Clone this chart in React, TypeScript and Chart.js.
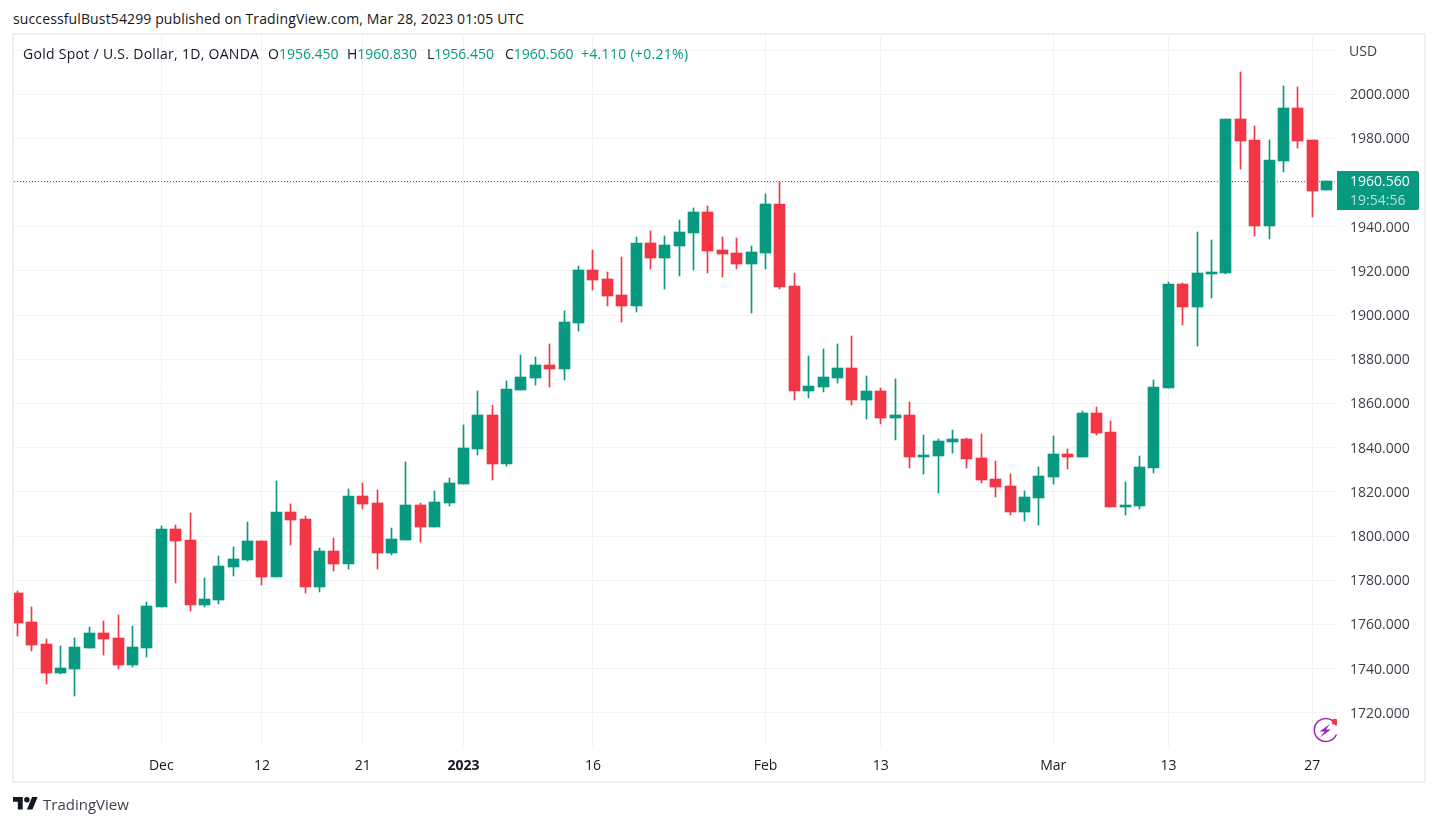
import React, { useEffect, useRef } from "react";
import { Chart, registerables } from "chart.js";

Chart.register(...registerables);

const opens = [1774.2,1761.1,1751.1,1738.0,1739.8,1749.3,1756.1,1753.8,1741.6,1749.3,1767.9,1803.2,1798.2,1768.8,1771.0,1786.0,1789.1,1797.7,1781.4,1810.9,1807.7,1776.9,1793.2,1787.3,1818.1,1814.9,1792.3,1798.2,1814.0,1804.1,1814.9,1823.5,1839.4,1854.8,1832.6,1866.1,1871.5,1877.4,1875.6,1896.4,1920.4,1916.4,1909.1,1904.1,1932.7,1925.9,1931.3,1937.2,1946.7,1929.5,1928.1,1923.2,1928.1,1950.3,1913.2,1865.6,1867.5,1871.5,1876.1,1861.6,1865.6,1853.4,1854.8,1835.8,1836.2,1842.6,1843.9,1835.3,1825.8,1822.6,1810.9,1817.2,1826.7,1837.1,1835.8,1855.7,1847.1,1813.1,1813.6,1830.8,1867.0,1914.1,1903.7,1918.6,1919.1,1988.8,1979.3,1940.4,1969.8,1993.8,1979.3,1956.45];
const highs = [1775.1,1767.9,1753.4,1750.2,1753.8,1758.8,1761.5,1764.2,1759.2,1770.1,1804.5,1805.0,1810.4,1781.0,1791.0,1795.0,1806.4,1797.7,1824.9,1814.5,1809.1,1794.6,1799.1,1821.3,1824.0,1820.8,1803.6,1833.5,1815.0,1820.4,1826.3,1850.3,1865.6,1859.3,1870.2,1881.9,1881.0,1886.9,1901.9,1922.2,1929.5,1919.5,1926.3,1935.4,1938.1,1935.8,1943.1,1948.5,1949.4,1935.4,1934.9,1931.3,1954.9,1960.3,1919.1,1881.5,1884.7,1886.9,1890.6,1872.4,1867.0,1871.1,1860.7,1845.7,1843.9,1848.0,1844.4,1846.2,1833.9,1828.1,1820.4,1831.2,1845.3,1839.4,1856.6,1858.4,1852.1,1824.5,1836.2,1870.6,1915.0,1914.6,1937.7,1934.0,1988.8,2010.1,1985.6,1979.3,2003.8,2003.3,1979.3,1960.83];
const lows = [1754.7,1747.9,1733.0,1737.5,1727.6,1749.3,1746.1,1739.8,1740.7,1745.2,1767.9,1778.7,1766.1,1767.9,1769.2,1781.9,1788.7,1777.8,1781.4,1795.9,1774.2,1774.6,1784.2,1785.1,1812.2,1785.1,1791.4,1798.2,1797.3,1804.1,1813.6,1823.5,1836.7,1825.4,1831.7,1866.1,1868.4,1867.5,1870.6,1892.8,1911.4,1904.1,1896.9,1901.4,1920.9,1911.8,1917.7,1920.4,1919.1,1917.3,1920.9,1901.0,1920.9,1911.8,1861.6,1862.5,1865.2,1869.3,1859.3,1853.0,1850.7,1843.5,1830.8,1828.1,1819.5,1837.6,1830.8,1824.0,1817.7,1809.5,1806.8,1805.0,1823.5,1830.3,1835.8,1845.7,1813.1,1809.5,1812.2,1828.5,1867.0,1895.5,1886.0,1907.8,1918.6,1966.2,1935.8,1934.5,1964.8,1975.7,1944.4,1956.45];
const closes = [1760.6,1750.6,1738.0,1740.2,1749.7,1756.1,1753.4,1741.6,1749.7,1768.3,1803.2,1797.7,1768.8,1771.5,1786.4,1789.6,1797.7,1781.4,1810.9,1807.3,1776.9,1793.2,1787.3,1818.1,1814.5,1792.3,1798.6,1814.0,1804.1,1815.4,1824.0,1839.8,1854.8,1832.6,1866.6,1872.0,1877.4,1875.6,1896.9,1920.4,1915.9,1908.7,1904.1,1932.7,1925.9,1931.8,1937.6,1946.7,1929.0,1927.7,1923.2,1928.6,1950.3,1912.7,1865.6,1867.9,1872.0,1876.1,1861.6,1865.6,1853.4,1854.8,1835.8,1836.7,1843.0,1843.9,1834.9,1825.4,1822.2,1810.9,1817.7,1827.2,1837.1,1835.8,1855.7,1846.6,1813.1,1814.0,1831.2,1867.5,1914.1,1903.7,1919.1,1919.5,1988.8,1978.9,1940.4,1970.3,1993.8,1978.9,1956.2,1960.56];

const xTickIndexes = [10, 17, 24, 31, 40, 52, 60, 72, 80, 90];
const xTickLabels = ["Dec", "12", "21", "2023", "16", "Feb", "13", "Mar", "13", "27"];
const yTickValues = [1720,1740,1760,1780,1800,1820,1840,1860,1880,1900,1920,1940,1960,1980,2000,2020];
const hiddenYTick = 2020;
const lastPriceLabel = "1960.560";
const countdownLabel = "19:54:56";

const UP = "#089981";
const DOWN = "#F23645";
const GRID = "#F2F3F6";
const FRAME = "#EEEEF4";
const TEXT = "#131722";
const FONT = "'Open Sans', sans-serif";

const colors = closes.map((c, i) => (c >= opens[i] ? UP : DOWN));

const pixelSnap = {
  id: "pixelSnap",
  beforeDatasetsDraw(chart: any) {
    chart.getSortedVisibleDatasetMetas().forEach((meta: any) => {
      meta.data.forEach((el: any) => {
        const w = Math.round(el.width);
        el.width = w;
        el.x = Math.round(el.x - w / 2) + w / 2;
        const top = Math.round(Math.min(el.y, el.base));
        let bottom = Math.round(Math.max(el.y, el.base));
        if (bottom <= top) bottom = top + 1;
        el.y = top;
        el.base = bottom;
        el.height = bottom - top;
      });
    });
  },
};

const lastPrice = {
  id: "lastPrice",
  afterDatasetsDraw(chart: any) {
    const { ctx, chartArea, scales } = chart;
    const y = Math.round(scales.y.getPixelForValue(closes[closes.length - 1])) + 0.5;
    ctx.save();
    ctx.strokeStyle = UP;
    ctx.lineWidth = 1;
    ctx.setLineDash([1, 2]);
    ctx.beginPath();
    ctx.moveTo(chartArea.left, y);
    ctx.lineTo(chartArea.right, y);
    ctx.stroke();
    ctx.restore();
  },
  afterDraw(chart: any) {
    const { ctx, chartArea, scales } = chart;
    const y = scales.y.getPixelForValue(closes[closes.length - 1]);
    const left = chartArea.right;
    const top = Math.round(y) - 10;
    ctx.save();
    ctx.fillStyle = UP;
    ctx.beginPath();
    ctx.roundRect(left, top, 82, 39, [0, 2, 2, 0]);
    ctx.fill();
    ctx.textAlign = "left";
    ctx.textBaseline = "middle";
    ctx.font = `14px ${FONT}`;
    ctx.fillStyle = "#FFFFFF";
    ctx.fillText(lastPriceLabel, left + 13, top + 11);
    ctx.fillStyle = "rgba(255,255,255,0.7)";
    ctx.fillText(countdownLabel, left + 13, top + 30);
    ctx.restore();
  },
};

const abs = (left: number, top: number, extra: React.CSSProperties = {}): React.CSSProperties => ({
  position: "absolute",
  left,
  top,
  fontFamily: FONT,
  fontSize: 14,
  lineHeight: "18px",
  whiteSpace: "pre",
  color: TEXT,
  ...extra,
});

export default function App() {
  const ref = useRef<HTMLCanvasElement>(null);

  useEffect(() => {
    document.body.style.margin = "0";
    const chart = new Chart(ref.current as HTMLCanvasElement, {
      type: "bar",
      data: {
        datasets: [
          {
            data: closes.map((_, i) => ({ x: i, y: [lows[i], highs[i]] })),
            backgroundColor: colors,
            barThickness: 1,
            grouped: false,
          },
          {
            data: closes.map((c, i) => ({ x: i, y: [opens[i], c] })),
            backgroundColor: colors,
            barThickness: 11,
            grouped: false,
          },
        ],
      } as any,
      options: {
        animation: false,
        responsive: false,
        devicePixelRatio: 1,
        layout: { padding: { left: 14, top: 36, right: 13, bottom: 45 } },
        plugins: { legend: { display: false }, tooltip: { enabled: false }, title: { display: false } },
        scales: {
          x: {
            type: "linear",
            offset: false,
            min: -0.236,
            max: 91.72,
            grid: { color: GRID, lineWidth: 1, drawTicks: false, offset: false },
            border: { display: false },
            afterBuildTicks: (s: any) => {
              s.ticks = xTickIndexes.map((value) => ({ value }));
            },
            afterFit: (s: any) => {
              s.height = 34;
            },
            ticks: {
              autoSkip: false,
              maxRotation: 0,
              padding: 11,
              color: TEXT,
              font: (c: any) => ({
                family: FONT,
                size: 14,
                weight: c.tick && c.tick.label === "2023" ? "bold" : "normal",
              }),
              callback: (v: any) => xTickLabels[xTickIndexes.indexOf(v)] ?? "",
            },
          },
          y: {
            position: "right",
            min: 1704.47,
            max: 2026.4,
            grid: { color: GRID, lineWidth: 1, drawTicks: false },
            border: { display: false },
            afterBuildTicks: (s: any) => {
              s.ticks = yTickValues.map((value) => ({ value }));
            },
            afterFit: (s: any) => {
              s.width = 87;
            },
            ticks: {
              padding: 13,
              labelOffset: 1,
              color: "#3b3f4a",
              font: { family: FONT, size: 14 },
              callback: (v: any) => (v === hiddenYTick ? "" : Number(v).toFixed(3)),
            },
          },
        },
      } as any,
      plugins: [pixelSnap, lastPrice],
    });
    return () => chart.destroy();
  }, []);

  const green = { color: UP };
  return (
    <div style={{ position: "absolute", left: 0, top: 0, width: 1437, height: 826, background: "#fff", overflow: "hidden" }}>
      <div style={abs(13, 10, { letterSpacing: 0.125 })}>successfulBust54299 published on TradingView.com, Mar 28, 2023 01:05 UTC</div>
      <div style={{ position: "absolute", left: 12, top: 33, width: 1410, height: 746, border: `2px solid ${FRAME}` }} />
      <canvas ref={ref} width={1437} height={826} style={{ position: "absolute", left: 0, top: 0, width: 1437, height: 826 }} />
      <div style={abs(23, 45, { letterSpacing: 0.29 })}>Gold Spot / U.S. Dollar, 1D, OANDA</div>
      <div style={abs(268, 45)}>O<span style={green}>1956.450</span></div>
      <div style={abs(347, 45)}>H<span style={green}>1960.830</span></div>
      <div style={abs(427, 45)}>L<span style={green}>1956.450</span></div>
      <div style={abs(505, 45)}>C<span style={green}>1960.560</span></div>
      <div style={abs(581, 45, { ...green, letterSpacing: 0.3 })}>+4.110 (+0.21%)</div>
      <div style={abs(1349, 42, { color: "#3b3f4a" })}>USD</div>
      <svg width={26} height={28} viewBox="0 0 26 28" style={{ position: "absolute", left: 1311, top: 716 }}>
        <path d="M25.4 9.5 A11.5 11.5 0 1 0 25.4 18.5" fill="none" stroke="#9C27B0" strokeWidth={1.5} />
        <path d="M19 8 L8.5 15.5 L13.5 15.5 L9 21.5 L20 13.5 L15 13.5 Z" fill="#9C27B0" />
        <circle cx={23.7} cy={5.7} r={3} fill="#F23645" />
      </svg>
      <svg width={25} height={12.5} viewBox="0 4 36 18" style={{ position: "absolute", left: 13, top: 797 }}>
        <path d="M14 22H7V11H0V4h14v18zM28 22h-8l7.5-18h8L28 22z" fill={TEXT} />
        <circle cx={20} cy={8} r={4} fill={TEXT} />
      </svg>
      <div style={abs(43, 795, { fontSize: 15, color: "#3b3f4a" })}>TradingView</div>
    </div>
  );
}
